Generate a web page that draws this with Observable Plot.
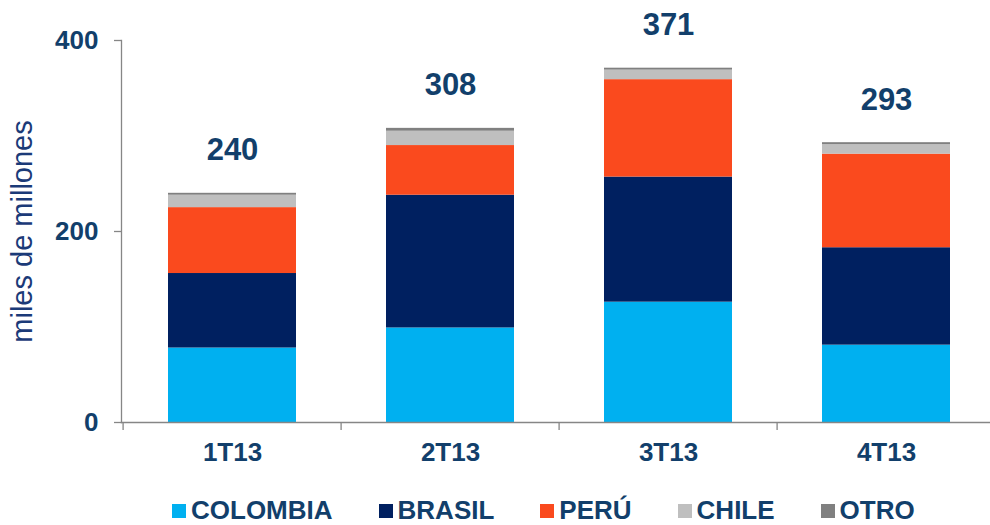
<!DOCTYPE html>
<html>
<head>
<meta charset="utf-8">
<script src="https://cdn.jsdelivr.net/npm/d3@7"></script>
<script src="https://cdn.jsdelivr.net/npm/@observablehq/plot@0.6"></script>
<style>
  html, body { margin: 0; padding: 0; background: #fff; overflow: hidden; }
  #wrap { position: relative; width: 990px; height: 525px; font-family: "Liberation Sans", Arial, sans-serif; }
  #legend { display: flex; align-items: center; padding-left: 172px; padding-top: 4px; height: 35px; box-sizing: border-box; gap: 46px; }
  .item { display: flex; align-items: center; font-weight: bold; font-size: 26px; line-height: 30px; color: #123f6b; }
  .sw { width: 14px; height: 14px; margin-right: 5px; margin-top: 3px; }
</style>
</head>
<body>
<div id="wrap"><div id="chart"></div><div id="legend"></div></div>
<script>
const quarters = ["1T13", "2T13", "3T13", "4T13"];
const series = ["COLOMBIA", "BRASIL", "PERÚ", "CHILE", "OTRO"];
const colors = ["#00b0f0", "#002060", "#fa4a1e", "#bfbfbf", "#808080"];
const colombia = [78, 99, 126, 81];
const brasil = [78, 139, 131, 102];
const peru = [69, 52, 102, 98];
const chile = [13, 15, 10, 10];
const otro = [2, 3, 2, 2];
const totals = [240, 308, 371, 293];
const yTicks = [0, 200, 400];

const values = [colombia, brasil, peru, chile, otro];
const data = [];
quarters.forEach((q, i) => series.forEach((s, j) => data.push({q, serie: s, v: values[j][i]})));
const totalData = quarters.map((q, i) => ({q, total: totals[i]}));

const textColor = "#123f6b";
const axisColor = "#868686";

const chart = Plot.plot({
  width: 990,
  height: 490,
  marginTop: 40,
  marginBottom: 68,
  marginLeft: 121,
  marginRight: 0,
  style: {fontFamily: "'Liberation Sans', Arial, sans-serif", background: "#fff"},
  x: {domain: quarters, range: [121, 996], paddingInner: 0.415, paddingOuter: 0.2075, axis: null},
  y: {domain: [0, 400], axis: null},
  color: {domain: series, range: colors},
  marks: [
    Plot.barY(data, {x: "q", y: "v", fill: "serie", order: series}),
    Plot.frame({anchor: "bottom", stroke: axisColor, strokeWidth: 1.3}),
    Plot.ruleX(quarters, {x: d => d, y1: 0, y2: -8.5, dx: -109.4, stroke: axisColor, strokeWidth: 1.3}),
    Plot.frame({anchor: "left", stroke: axisColor, strokeWidth: 1.3}),
    Plot.axisY({ticks: yTicks, tickSize: 7, tickPadding: 16, stroke: axisColor, strokeWidth: 1.3,
      fontSize: 26, fontWeight: "bold", fill: textColor, label: null}),
    Plot.axisX({tickSize: 0, tickPadding: 20, fontSize: 26, fontWeight: "bold", fill: textColor, label: null}),
    Plot.text(totalData, {x: "q", y: "total", text: d => String(d.total), dy: -43,
      fontSize: 31, fontWeight: "bold", fill: textColor}),
    Plot.text(["miles de millones"], {frameAnchor: "left", text: d => d, rotate: -90, dx: -99,
      textAnchor: "middle", fontSize: 29, fill: "#1b3a78"})
  ]
});
document.getElementById("chart").appendChild(chart);

const legend = document.getElementById("legend");
series.forEach((s, i) => {
  const it = document.createElement("div");
  it.className = "item";
  const sw = document.createElement("span");
  sw.className = "sw";
  sw.style.background = colors[i];
  it.appendChild(sw);
  it.appendChild(document.createTextNode(s));
  legend.appendChild(it);
});
</script>
</body>
</html>
